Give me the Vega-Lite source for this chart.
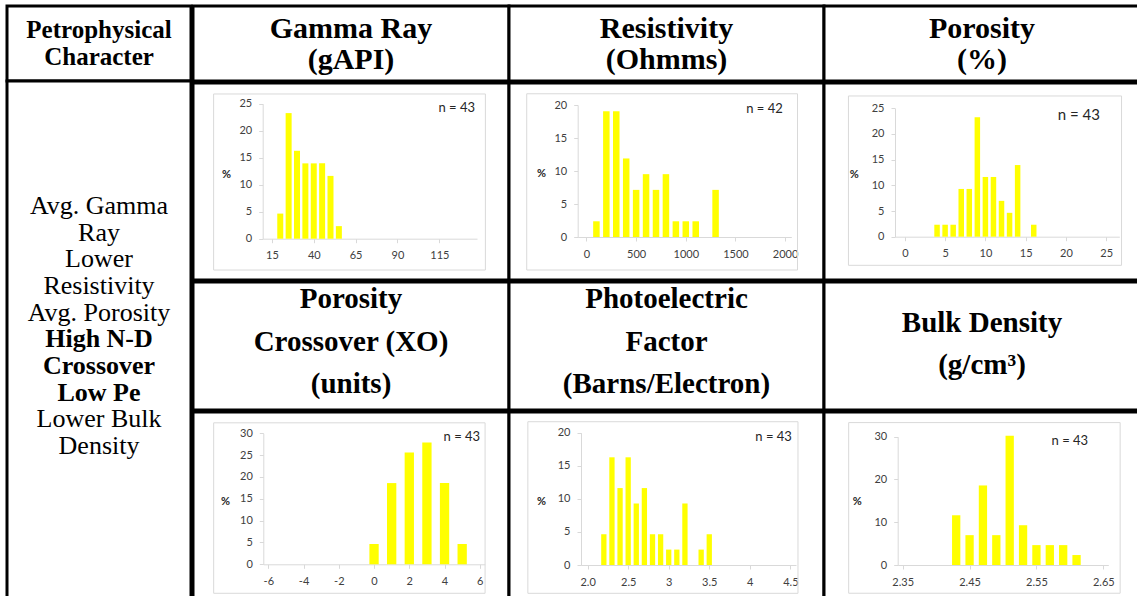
{
  "$schema": "https://vega.github.io/schema/vega-lite/v6.json",
  "background": "white",
  "padding": {"left": 5, "top": 4, "right": 0, "bottom": 0},
  "spacing": -6,
  "config": {
    "view": {"stroke": "black", "strokeWidth": 3, "fill": "white"},
    "text": {"font": "Liberation Serif", "baseline": "middle", "align": "center", "color": "black"},
    "axis": {"grid": false, "domainColor": "#d9d9d9", "domainWidth": 1, "tickColor": "#d9d9d9", "tickSize": 4, "labelFont": "Lato", "labelFontSize": 11, "labelColor": "#404040", "labelFlush": false, "labelOverlap": false, "titleFont": "Lato", "titleFontSize": 11, "titleFontWeight": "bold", "titleColor": "#262626"},
    "axisX": {"labelPadding": 7},
    "axisY": {"labelPadding": 7, "titleAngle": 0, "titleAlign": "center", "titleBaseline": "middle"}
  },
  "hconcat": [
    {
      "spacing": 0,
      "bounds": "flush",
      "vconcat": [
        {"width": 184, "height": 75,
         "data": {"values": [{"line": 0, "label": "Petrophysical"}, {"line": 1, "label": "Character"}]},
         "mark": {"type": "text", "fontWeight": "bold", "fontSize": 25},
         "encoding": {"y": {"field": "line", "type": "quantitative", "scale": {"domain": [0, 1], "range": [24, 51]}, "axis": null}, "text": {"field": "label"}}},
        {"width": 184, "height": 520,
         "data": {"values": [
           {"line": 0, "label": "Avg. Gamma", "bold": false},
           {"line": 1, "label": "Ray", "bold": false},
           {"line": 2, "label": "Lower", "bold": false},
           {"line": 3, "label": "Resistivity", "bold": false},
           {"line": 4, "label": "Avg. Porosity", "bold": false},
           {"line": 5, "label": "High N-D", "bold": true},
           {"line": 6, "label": "Crossover", "bold": true},
           {"line": 7, "label": "Low Pe", "bold": true},
           {"line": 8, "label": "Lower Bulk", "bold": false},
           {"line": 9, "label": "Density", "bold": false}
         ]},
         "encoding": {"y": {"field": "line", "type": "quantitative", "scale": {"domain": [0, 9], "range": [125, 365]}, "axis": null}, "text": {"field": "label"}},
         "layer": [
           {"transform": [{"filter": "!datum.bold"}], "mark": {"type": "text", "fontSize": 26}},
           {"transform": [{"filter": "datum.bold"}], "mark": {"type": "text", "fontWeight": "bold", "fontSize": 26}}
         ]}
      ]
    },
    {
      "spacing": -6,
      "vconcat": [
        {"spacing": 0, "bounds": "flush", "hconcat": [
          {"width": 316, "height": 75, "data": {"values": [{"line": 0, "label": "Gamma Ray"}, {"line": 1, "label": "(gAPI)"}]},
           "mark": {"type": "text", "fontWeight": "bold", "fontSize": 30},
           "encoding": {"y": {"field": "line", "type": "quantitative", "scale": {"domain": [0, 1], "range": [23, 54]}, "axis": null}, "text": {"field": "label"}}},
          {"width": 315, "height": 75, "data": {"values": [{"line": 0, "label": "Resistivity"}, {"line": 1, "label": "(Ohmms)"}]},
           "mark": {"type": "text", "fontWeight": "bold", "fontSize": 30},
           "encoding": {"y": {"field": "line", "type": "quantitative", "scale": {"domain": [0, 1], "range": [23, 54]}, "axis": null}, "text": {"field": "label"}}},
          {"width": 316, "height": 75, "data": {"values": [{"line": 0, "label": "Porosity"}, {"line": 1, "label": "(%)"}]},
           "mark": {"type": "text", "fontWeight": "bold", "fontSize": 30},
           "encoding": {"y": {"field": "line", "type": "quantitative", "scale": {"domain": [0, 1], "range": [23, 54]}, "axis": null}, "text": {"field": "label"}}}
        ]},
        {"spacing": 0, "bounds": "flush", "hconcat": [
          {"width": 316, "height": 197,
           "data": {"values": [{"gr": 20, "pct": 4.65}, {"gr": 25, "pct": 23.26}, {"gr": 30, "pct": 16.28}, {"gr": 35, "pct": 13.95}, {"gr": 40, "pct": 13.95}, {"gr": 45, "pct": 13.95}, {"gr": 50, "pct": 11.63}, {"gr": 55, "pct": 2.33}]},
           "layer": [
             {"data": {"values": [{"frame": "chart area"}]},
              "mark": {"type": "rect", "fillOpacity": 0, "stroke": "#d9d9d9", "strokeWidth": 1},
              "encoding": {"x": {"datum": -19.8, "type": "quantitative", "scale": {"domain": [12.5, 134.5], "range": [69.7, 284], "nice": false, "zero": false}, "axis": {"values": [15, 40, 65, 90, 115], "offset": -41.3, "title": null, "labelExpr": "'' + datum.value"}}, "x2": {"datum": 142.5},
                           "y": {"datum": 26.8, "type": "quantitative", "scale": {"domain": [0, 25], "range": [155.7, 20.7], "nice": false}, "axis": {"values": [0, 5, 10, 15, 20, 25], "offset": -69.7, "title": "%", "titleX": -36.7, "titleY": 91}}, "y2": {"datum": -5.8}}},
             {"mark": {"type": "bar", "orient": "vertical", "color": "#ffff00", "width": 6},
              "encoding": {"x": {"field": "gr", "type": "quantitative", "scale": {"domain": [12.5, 134.5], "range": [69.7, 284], "nice": false, "zero": false}, "axis": {"values": [15, 40, 65, 90, 115], "offset": -41.3, "title": null, "labelExpr": "'' + datum.value"}},
                           "y": {"field": "pct", "type": "quantitative", "scale": {"domain": [0, 25], "range": [155.7, 20.7], "nice": false}, "axis": {"values": [0, 5, 10, 15, 20, 25], "offset": -69.7, "title": "%", "titleX": -36.7, "titleY": 91}}}},
             {"data": {"values": [{"label": "n = 43"}]},
              "mark": {"type": "text", "font": "Lato", "fontSize": 13, "color": "#262626"},
              "encoding": {"x": {"datum": 125.4, "type": "quantitative", "scale": {"domain": [12.5, 134.5], "range": [69.7, 284], "nice": false, "zero": false}, "axis": {"values": [15, 40, 65, 90, 115], "offset": -41.3, "title": null, "labelExpr": "'' + datum.value"}},
                           "y": {"datum": 24.2, "type": "quantitative", "scale": {"domain": [0, 25], "range": [155.7, 20.7], "nice": false}, "axis": {"values": [0, 5, 10, 15, 20, 25], "offset": -69.7, "title": "%", "titleX": -36.7, "titleY": 91}}, "text": {"field": "label"}}}
           ]},
          {"width": 315, "height": 197,
           "data": {"values": [{"res": 100, "pct": 2.38}, {"res": 200, "pct": 19.05}, {"res": 300, "pct": 19.05}, {"res": 400, "pct": 11.9}, {"res": 500, "pct": 7.14}, {"res": 600, "pct": 9.52}, {"res": 700, "pct": 7.14}, {"res": 800, "pct": 9.52}, {"res": 900, "pct": 2.38}, {"res": 1000, "pct": 2.38}, {"res": 1100, "pct": 2.38}, {"res": 1300, "pct": 7.14}]},
           "layer": [
             {"data": {"values": [{"frame": "chart area"}]},
              "mark": {"type": "rect", "fillOpacity": 0, "stroke": "#d9d9d9", "strokeWidth": 1},
              "encoding": {"x": {"datum": -601.6, "type": "quantitative", "scale": {"domain": [-38, 2012], "range": [68.7, 282.3], "nice": false, "zero": false}, "axis": {"values": [0, 500, 1000, 1500, 2000], "offset": -43, "title": null, "labelExpr": "'' + datum.value"}}, "x2": {"datum": 2125},
                           "y": {"datum": 21.7, "type": "quantitative", "scale": {"domain": [0, 20], "range": [154, 22], "nice": false}, "axis": {"values": [0, 5, 10, 15, 20], "offset": -68.7, "title": "%", "titleX": -36.7, "titleY": 90.7}}, "y2": {"datum": -5.0}}},
             {"mark": {"type": "bar", "orient": "vertical", "color": "#ffff00", "width": 6.5},
              "encoding": {"x": {"field": "res", "type": "quantitative", "scale": {"domain": [-38, 2012], "range": [68.7, 282.3], "nice": false, "zero": false}, "axis": {"values": [0, 500, 1000, 1500, 2000], "offset": -43, "title": null, "labelExpr": "'' + datum.value"}},
                           "y": {"field": "pct", "type": "quantitative", "scale": {"domain": [0, 20], "range": [154, 22], "nice": false}, "axis": {"values": [0, 5, 10, 15, 20], "offset": -68.7, "title": "%", "titleX": -36.7, "titleY": 90.7}}}},
             {"data": {"values": [{"label": "n = 42"}]},
              "mark": {"type": "text", "font": "Lato", "fontSize": 13, "color": "#262626"},
              "encoding": {"x": {"datum": 1792, "type": "quantitative", "scale": {"domain": [-38, 2012], "range": [68.7, 282.3], "nice": false, "zero": false}, "axis": {"values": [0, 500, 1000, 1500, 2000], "offset": -43, "title": null, "labelExpr": "'' + datum.value"}},
                           "y": {"datum": 19.35, "type": "quantitative", "scale": {"domain": [0, 20], "range": [154, 22], "nice": false}, "axis": {"values": [0, 5, 10, 15, 20], "offset": -68.7, "title": "%", "titleX": -36.7, "titleY": 90.7}}, "text": {"field": "label"}}}
           ]},
          {"width": 316, "height": 197,
           "data": {"values": [{"phi": 4, "pct": 2.33}, {"phi": 5, "pct": 2.33}, {"phi": 6, "pct": 2.33}, {"phi": 7, "pct": 9.3}, {"phi": 8, "pct": 9.3}, {"phi": 9, "pct": 23.26}, {"phi": 10, "pct": 11.63}, {"phi": 11, "pct": 11.63}, {"phi": 12, "pct": 6.98}, {"phi": 13, "pct": 4.65}, {"phi": 14, "pct": 13.95}, {"phi": 16, "pct": 2.33}]},
           "layer": [
             {"data": {"values": [{"frame": "chart area"}]},
              "mark": {"type": "rect", "fillOpacity": 0, "stroke": "#d9d9d9", "strokeWidth": 1},
              "encoding": {"x": {"datum": -7.0, "type": "quantitative", "scale": {"domain": [-0.6, 26], "range": [71, 295.3], "nice": false, "zero": false}, "axis": {"values": [0, 5, 10, 15, 20, 25], "offset": -43.3, "title": null, "labelExpr": "'' + datum.value"}}, "x2": {"datum": 26.9},
                           "y": {"datum": 27.4, "type": "quantitative", "scale": {"domain": [0, 25], "range": [153.7, 25.3], "nice": false}, "axis": {"values": [0, 5, 10, 15, 20, 25], "offset": -71, "title": "%", "titleX": -41.3, "titleY": 91.3}}, "y2": {"datum": -5.57}}},
             {"mark": {"type": "bar", "orient": "vertical", "color": "#ffff00", "width": 5.5},
              "encoding": {"x": {"field": "phi", "type": "quantitative", "scale": {"domain": [-0.6, 26], "range": [71, 295.3], "nice": false, "zero": false}, "axis": {"values": [0, 5, 10, 15, 20, 25], "offset": -43.3, "title": null, "labelExpr": "'' + datum.value"}},
                           "y": {"field": "pct", "type": "quantitative", "scale": {"domain": [0, 25], "range": [153.7, 25.3], "nice": false}, "axis": {"values": [0, 5, 10, 15, 20, 25], "offset": -71, "title": "%", "titleX": -41.3, "titleY": 91.3}}}},
             {"data": {"values": [{"label": "n = 43"}]},
              "mark": {"type": "text", "font": "Lato", "fontSize": 15, "color": "#262626"},
              "encoding": {"x": {"datum": 21.6, "type": "quantitative", "scale": {"domain": [-0.6, 26], "range": [71, 295.3], "nice": false, "zero": false}, "axis": {"values": [0, 5, 10, 15, 20, 25], "offset": -43.3, "title": null, "labelExpr": "'' + datum.value"}},
                           "y": {"datum": 23.7, "type": "quantitative", "scale": {"domain": [0, 25], "range": [153.7, 25.3], "nice": false}, "axis": {"values": [0, 5, 10, 15, 20, 25], "offset": -71, "title": "%", "titleX": -41.3, "titleY": 91.3}}, "text": {"field": "label"}}}
           ]}
        ]},
        {"spacing": 0, "bounds": "flush", "hconcat": [
          {"width": 316, "height": 128, "data": {"values": [{"line": 0, "label": "Porosity"}, {"line": 1, "label": "Crossover (XO)"}, {"line": 2, "label": "(units)"}]},
           "mark": {"type": "text", "fontWeight": "bold", "fontSize": 29},
           "encoding": {"y": {"field": "line", "type": "quantitative", "scale": {"domain": [0, 2], "range": [17, 102]}, "axis": null}, "text": {"field": "label"}}},
          {"width": 315, "height": 128, "data": {"values": [{"line": 0, "label": "Photoelectric"}, {"line": 1, "label": "Factor"}, {"line": 2, "label": "(Barns/Electron)"}]},
           "mark": {"type": "text", "fontWeight": "bold", "fontSize": 29},
           "encoding": {"y": {"field": "line", "type": "quantitative", "scale": {"domain": [0, 2], "range": [17, 102]}, "axis": null}, "text": {"field": "label"}}},
          {"width": 316, "height": 128, "data": {"values": [{"line": 0, "label": "Bulk Density"}, {"line": 1, "label": "(g/cm³)"}]},
           "mark": {"type": "text", "fontWeight": "bold", "fontSize": 29},
           "encoding": {"y": {"field": "line", "type": "quantitative", "scale": {"domain": [0, 1], "range": [41, 83]}, "axis": null}, "text": {"field": "label"}}}
        ]},
        {"spacing": 0, "bounds": "flush", "hconcat": [
          {"width": 316, "height": 195,
           "data": {"values": [{"xo": 0, "pct": 4.65}, {"xo": 1, "pct": 18.6}, {"xo": 2, "pct": 25.58}, {"xo": 3, "pct": 27.91}, {"xo": 4, "pct": 18.6}, {"xo": 5, "pct": 4.65}]},
           "layer": [
             {"data": {"values": [{"frame": "chart area"}]},
              "mark": {"type": "rect", "fillOpacity": 0, "stroke": "#d9d9d9", "strokeWidth": 1},
              "encoding": {"x": {"datum": -9.1, "type": "quantitative", "scale": {"domain": [-6, 6], "range": [70.3, 291.8], "nice": false, "zero": false}, "axis": {"values": [-6, -4, -2, 0, 2, 4, 6], "offset": -42.7, "title": null, "labelExpr": "'' + datum.value"}}, "x2": {"datum": 6.3},
                           "y": {"datum": 32.4, "type": "quantitative", "scale": {"domain": [0, 30], "range": [152.3, 21.3], "nice": false}, "axis": {"values": [0, 5, 10, 15, 20, 25, 30], "offset": -70.3, "title": "%", "titleX": -38.3, "titleY": 89}}, "y2": {"datum": -6.64}}},
             {"mark": {"type": "bar", "orient": "vertical", "color": "#ffff00", "width": 9.3},
              "encoding": {"x": {"field": "xo", "type": "quantitative", "scale": {"domain": [-6, 6], "range": [70.3, 291.8], "nice": false, "zero": false}, "axis": {"values": [-6, -4, -2, 0, 2, 4, 6], "offset": -42.7, "title": null, "labelExpr": "'' + datum.value"}},
                           "y": {"field": "pct", "type": "quantitative", "scale": {"domain": [0, 30], "range": [152.3, 21.3], "nice": false}, "axis": {"values": [0, 5, 10, 15, 20, 25, 30], "offset": -70.3, "title": "%", "titleX": -38.3, "titleY": 89}}}},
             {"data": {"values": [{"label": "n = 43"}]},
              "mark": {"type": "text", "font": "Lato", "fontSize": 13, "color": "#262626"},
              "encoding": {"x": {"datum": 4.98, "type": "quantitative", "scale": {"domain": [-6, 6], "range": [70.3, 291.8], "nice": false, "zero": false}, "axis": {"values": [-6, -4, -2, 0, 2, 4, 6], "offset": -42.7, "title": null, "labelExpr": "'' + datum.value"}},
                           "y": {"datum": 29.1, "type": "quantitative", "scale": {"domain": [0, 30], "range": [152.3, 21.3], "nice": false}, "axis": {"values": [0, 5, 10, 15, 20, 25, 30], "offset": -70.3, "title": "%", "titleX": -38.3, "titleY": 89}}, "text": {"field": "label"}}}
           ]},
          {"width": 315, "height": 195,
           "data": {"values": [{"pe": 2.2, "pct": 4.65}, {"pe": 2.3, "pct": 16.28}, {"pe": 2.4, "pct": 11.63}, {"pe": 2.5, "pct": 16.28}, {"pe": 2.6, "pct": 9.3}, {"pe": 2.7, "pct": 11.63}, {"pe": 2.8, "pct": 4.65}, {"pe": 2.9, "pct": 4.65}, {"pe": 3.0, "pct": 2.33}, {"pe": 3.1, "pct": 2.33}, {"pe": 3.2, "pct": 9.3}, {"pe": 3.4, "pct": 2.33}, {"pe": 3.5, "pct": 4.65}]},
           "layer": [
             {"data": {"values": [{"frame": "chart area"}]},
              "mark": {"type": "rect", "fillOpacity": 0, "stroke": "#d9d9d9", "strokeWidth": 1},
              "encoding": {"x": {"datum": 1.263, "type": "quantitative", "scale": {"domain": [1.98, 4.508], "range": [72, 287], "nice": false, "zero": false}, "axis": {"values": [2, 2.5, 3, 3.5, 4, 4.5], "offset": -42, "title": null, "labelExpr": "datum.value == 2 ? '2.0' : '' + datum.value"}}, "x2": {"datum": 4.594},
                           "y": {"datum": 21.66, "type": "quantitative", "scale": {"domain": [0, 20], "range": [153, 20.7], "nice": false}, "axis": {"values": [0, 5, 10, 15, 20], "offset": -72, "title": "%", "titleX": -40, "titleY": 89}}, "y2": {"datum": -4.28}}},
             {"mark": {"type": "bar", "orient": "vertical", "color": "#ffff00", "width": 5.3},
              "encoding": {"x": {"field": "pe", "type": "quantitative", "scale": {"domain": [1.98, 4.508], "range": [72, 287], "nice": false, "zero": false}, "axis": {"values": [2, 2.5, 3, 3.5, 4, 4.5], "offset": -42, "title": null, "labelExpr": "datum.value == 2 ? '2.0' : '' + datum.value"}},
                           "y": {"field": "pct", "type": "quantitative", "scale": {"domain": [0, 20], "range": [153, 20.7], "nice": false}, "axis": {"values": [0, 5, 10, 15, 20], "offset": -72, "title": "%", "titleX": -40, "titleY": 89}}}},
             {"data": {"values": [{"label": "n = 43"}]},
              "mark": {"type": "text", "font": "Lato", "fontSize": 13, "color": "#262626"},
              "encoding": {"x": {"datum": 4.293, "type": "quantitative", "scale": {"domain": [1.98, 4.508], "range": [72, 287], "nice": false, "zero": false}, "axis": {"values": [2, 2.5, 3, 3.5, 4, 4.5], "offset": -42, "title": null, "labelExpr": "datum.value == 2 ? '2.0' : '' + datum.value"}},
                           "y": {"datum": 19.3, "type": "quantitative", "scale": {"domain": [0, 20], "range": [153, 20.7], "nice": false}, "axis": {"values": [0, 5, 10, 15, 20], "offset": -72, "title": "%", "titleX": -40, "titleY": 89}}, "text": {"field": "label"}}}
           ]},
          {"width": 316, "height": 195,
           "data": {"values": [{"rhob": 2.43, "pct": 11.63}, {"rhob": 2.45, "pct": 6.98}, {"rhob": 2.47, "pct": 18.6}, {"rhob": 2.49, "pct": 6.98}, {"rhob": 2.51, "pct": 30.23}, {"rhob": 2.53, "pct": 9.3}, {"rhob": 2.55, "pct": 4.65}, {"rhob": 2.57, "pct": 4.65}, {"rhob": 2.59, "pct": 4.65}, {"rhob": 2.61, "pct": 2.33}]},
           "layer": [
             {"data": {"values": [{"frame": "chart area"}]},
              "mark": {"type": "rect", "fillOpacity": 0, "stroke": "#d9d9d9", "strokeWidth": 1},
              "encoding": {"x": {"datum": 2.2692, "type": "quantitative", "scale": {"domain": [2.35, 2.65], "range": [73.7, 284.3], "nice": false, "zero": false}, "axis": {"values": [2.35, 2.45, 2.55, 2.65], "offset": -42, "title": null, "labelExpr": "'' + datum.value"}}, "x2": {"datum": 2.6752},
                           "y": {"datum": 33.3, "type": "quantitative", "scale": {"domain": [0, 30], "range": [153, 24.7], "nice": false}, "axis": {"values": [0, 10, 20, 30], "offset": -73.7, "title": "%", "titleX": -41, "titleY": 89}}, "y2": {"datum": -6.6}}},
             {"mark": {"type": "bar", "orient": "vertical", "color": "#ffff00", "width": 8.3},
              "encoding": {"x": {"field": "rhob", "type": "quantitative", "scale": {"domain": [2.35, 2.65], "range": [73.7, 284.3], "nice": false, "zero": false}, "axis": {"values": [2.35, 2.45, 2.55, 2.65], "offset": -42, "title": null, "labelExpr": "'' + datum.value"}},
                           "y": {"field": "pct", "type": "quantitative", "scale": {"domain": [0, 30], "range": [153, 24.7], "nice": false}, "axis": {"values": [0, 10, 20, 30], "offset": -73.7, "title": "%", "titleX": -41, "titleY": 89}}}},
             {"data": {"values": [{"label": "n = 43"}]},
              "mark": {"type": "text", "font": "Lato", "fontSize": 13, "color": "#262626"},
              "encoding": {"x": {"datum": 2.6, "type": "quantitative", "scale": {"domain": [2.35, 2.65], "range": [73.7, 284.3], "nice": false, "zero": false}, "axis": {"values": [2.35, 2.45, 2.55, 2.65], "offset": -42, "title": null, "labelExpr": "'' + datum.value"}},
                           "y": {"datum": 29.06, "type": "quantitative", "scale": {"domain": [0, 30], "range": [153, 24.7], "nice": false}, "axis": {"values": [0, 10, 20, 30], "offset": -73.7, "title": "%", "titleX": -41, "titleY": 89}}, "text": {"field": "label"}}}
           ]}
        ]}
      ]
    }
  ]
}
